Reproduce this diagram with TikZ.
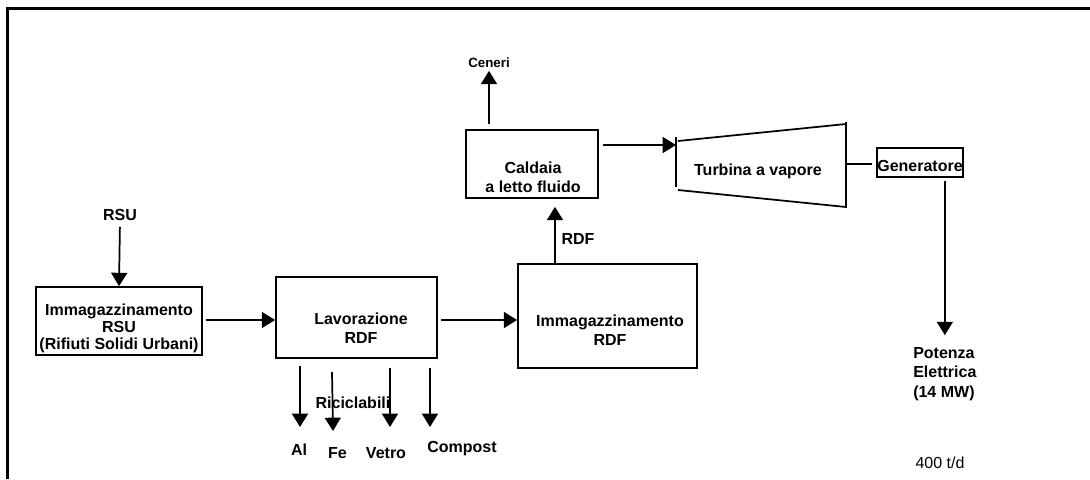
\documentclass[tikz,border=0pt]{standalone}
\usepackage{fontspec}
\setmainfont{Liberation Sans}
\usetikzlibrary{arrows.meta}

\tikzset{
  blk/.style={draw, line width=1.3pt, inner sep=0pt},
  lbl/.style={font=\bfseries\fontsize{12}{14.6}\selectfont, align=center, inner sep=0pt},
  arr/.style={line width=1.3pt, -{Triangle[length=10pt,width=12pt]}},
}

\begin{document}
\begin{tikzpicture}[x=0.75pt,y=-0.75pt]
  \useasboundingbox (0,0) rectangle (1090,479);
  \draw[line width=1.6pt] (7.5,479) -- (7.5,8.5) -- (1090,8.5);

  \node[lbl] (rsu) at (120,215) {RSU};
  \node[blk, minimum width=124.5pt, minimum height=51pt] (rsubox) at (119,321) {};
  \node[lbl, font=\bfseries\fontsize{12}{12.75}\selectfont] (rsutxt) at (119,328) {Immagazzinamento\\RSU\\(Rifiuti Solidi Urbani)};
  \node[blk, minimum width=120.75pt, minimum height=60.75pt] (lav) at (356.5,317.5) {};
  \node[lbl] (lavtxt) at (361,328) {Lavorazione\\RDF};
  \node[blk, minimum width=134.25pt, minimum height=78pt] (sto) at (607.5,316) {};
  \node[lbl] (stotxt) at (610,330) {Immagazzinamento\\RDF};
  \node[blk, minimum width=99pt, minimum height=51pt] (cal) at (532,164) {};
  \node[lbl] (caltxt) at (533,177.5) {Caldaia\\a letto fluido};
  \node[lbl, font=\bfseries\fontsize{10}{12}\selectfont] (cen) at (489,63) {Ceneri};
  \node[lbl] (rdf) at (578,239) {RDF};
  \node[lbl] (tur) at (758,171.5) {Turbina a vapore};
  \node[blk, minimum width=64.5pt, minimum height=21.75pt] (gen) at (920,162.5) {};
  \node[lbl] (gentxt) at (920,166) {Generatore};
  \node[lbl, align=left, anchor=west] (pot) at (913,374) {Potenza\\Elettrica\\(14 MW)};
  \node[font=\fontsize{12}{14}\selectfont, inner sep=0pt] (cap) at (940,463) {400 t/d};

  \node[lbl] (ric) at (353,403) {Riciclabili};
  \node[lbl] (al) at (299,450) {Al};
  \node[lbl] (fe) at (337.5,453) {Fe};
  \node[lbl] (vet) at (386,453) {Vetro};
  \node[lbl] (com) at (462,449) {Compost};

  \coordinate (flow) at (0,320);
  \coordinate (tin) at (676,145);
  \coordinate (tout) at (846,164);
  \coordinate (rdfx) at (555,230);
  \coordinate (al0) at (300,366);
  \coordinate (al1) at (300,427);
  \coordinate (fe0) at (332,372);
  \coordinate (fe1) at (333,431);
  \coordinate (vet0) at (390,368);
  \coordinate (vet1) at (390,427);
  \coordinate (com0) at (430,368);
  \coordinate (com1) at (430,427);

  % turbina
  \draw[line width=1.3pt] (676,137) -- (676,187);
  \draw[line width=1.3pt] (678,141) -- (846,124);
  \draw[line width=1.3pt] (678,190) -- (846,207);
  \draw[line width=1.3pt] (846,122) -- (846,208);

  \draw[arr, shorten <=4.5pt] (rsu.south) -- (rsubox.north);
  \draw[arr, shorten <=2pt] (rsubox.east |- flow) -- (lav.west |- flow);
  \draw[arr, shorten <=2pt] (lav.east |- flow) -- (sto.west |- flow);
  \draw[arr, shorten >=6pt] (sto.north -| rdfx) -- (cal.south -| rdfx);
  \draw[arr, shorten <=3.5pt, shorten >=2pt] (cal.north -| cen.south) -- (cen.south);
  \draw[arr, shorten <=3pt] (cal.east |- tin) -- (tin);
  \draw[line width=1.3pt, shorten >=3pt] (tout) -- (tout -| gen.west);
  \draw[arr, shorten <=2pt, shorten >=9pt] (pot.north |- gen.south) -- (pot.north);
  \draw[arr] (al0) -- (al1);
  \draw[arr] (fe0) -- (fe1);
  \draw[arr] (vet0) -- (vet1);
  \draw[arr] (com0) -- (com1);
\end{tikzpicture}
\end{document}
